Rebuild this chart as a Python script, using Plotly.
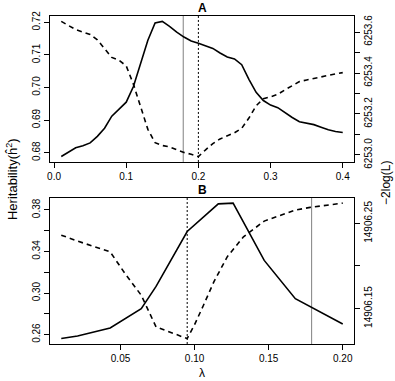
import plotly.graph_objects as go

# Panel A: grid of lambda values, heritability and -2log(L)
lam_a = [0.01, 0.02, 0.03, 0.04, 0.05, 0.06, 0.07, 0.08, 0.09, 0.10,
         0.11, 0.12, 0.13, 0.14, 0.15, 0.16, 0.17, 0.18, 0.19, 0.20,
         0.21, 0.22, 0.23, 0.24, 0.25, 0.26, 0.27, 0.28, 0.29, 0.30,
         0.31, 0.32, 0.33, 0.34, 0.35, 0.36, 0.37, 0.38, 0.39, 0.40]
h2_a = [0.6788, 0.6802, 0.6815, 0.6821, 0.6830, 0.6850, 0.6875, 0.6912, 0.6933, 0.6955,
        0.7003, 0.7075, 0.7145, 0.7198, 0.7203, 0.7188, 0.7170, 0.7155, 0.7143, 0.7136,
        0.7128, 0.7120, 0.7106, 0.7094, 0.7088, 0.7070, 0.7025, 0.6985, 0.6960, 0.6946,
        0.6938, 0.6922, 0.6908, 0.6895, 0.6891, 0.6886, 0.6878, 0.6870, 0.6865, 0.6862]
nll_a = [6253.652, 6253.632, 6253.612, 6253.600, 6253.588, 6253.562, 6253.518, 6253.476, 6253.462, 6253.435,
         6253.345, 6253.230, 6253.125, 6253.060, 6253.046, 6253.039, 6253.025, 6253.012, 6253.003, 6252.992,
         6253.025, 6253.055, 6253.078, 6253.095, 6253.108, 6253.130, 6253.180, 6253.240, 6253.275, 6253.284,
         6253.296, 6253.318, 6253.340, 6253.358, 6253.366, 6253.374, 6253.383, 6253.390, 6253.396, 6253.402]
lam_a_sel = 0.179   # solid grey reference line
lam_a_min = 0.20    # dotted line at minimum -2log(L)

# Panel B
lam_b_h = [0.01, 0.021, 0.043, 0.064, 0.074, 0.095, 0.116, 0.126, 0.147, 0.168, 0.2]
h2_b = [0.2562, 0.2587, 0.2664, 0.2850, 0.3064, 0.3592, 0.3858, 0.3865, 0.3314, 0.2946, 0.2703]
lam_b_l = [0.01, 0.021, 0.043, 0.053, 0.064, 0.074, 0.095, 0.100, 0.106, 0.113,
           0.122, 0.133, 0.147, 0.168, 0.178, 0.2]
nll_b = [14906.2362, 14906.2292, 14906.2166, 14906.1912, 14906.1656, 14906.1284, 14906.1147,
         14906.1310, 14906.1539, 14906.1813, 14906.2107, 14906.2342, 14906.2527, 14906.2656,
         14906.2688, 14906.2738]
lam_b_sel = 0.179
lam_b_min = 0.095

# tick labels
xt_a = [0.0, 0.1, 0.2, 0.3, 0.4]
xt_b = [0.05, 0.10, 0.15, 0.20]
yl_a = [0.68, 0.69, 0.70, 0.71, 0.72]
yl_b = [0.26, 0.28, 0.30, 0.32, 0.34, 0.36, 0.38]
yl_b_text = ["0.26", " ", "0.30", " ", "0.34", " ", "0.38"]
yr_a = [6253.0, 6253.1, 6253.2, 6253.3, 6253.4, 6253.5, 6253.6]
yr_a_text = ["6253.0", " ", "6253.2", " ", "6253.4", " ", "6253.6"]
yr_b = [14906.15, 14906.20, 14906.25]
yr_b_text = ["14906.15", " ", "14906.25"]

FONT = "Liberation Sans, Arial, sans-serif"


def rng(*series):
    # R style: data range padded by 4% each side
    vals = [v for s in series for v in s]
    lo, hi = min(vals), max(vals)
    pad = 0.04 * (hi - lo)
    return [lo - pad, hi + pad]


fig = go.Figure()
solid = dict(color="black", width=1.6)
dashed = dict(color="black", width=1.6, dash="5px,4px")
fig.add_trace(go.Scatter(x=lam_a, y=h2_a, mode="lines", line=solid, xaxis="x", yaxis="y"))
fig.add_trace(go.Scatter(x=lam_a, y=nll_a, mode="lines", line=dashed, xaxis="x", yaxis="y2"))
fig.add_trace(go.Scatter(x=lam_b_h, y=h2_b, mode="lines", line=solid, xaxis="x2", yaxis="y3"))
fig.add_trace(go.Scatter(x=lam_b_l, y=nll_b, mode="lines", line=dashed, xaxis="x2", yaxis="y4"))

ax = dict(showline=True, linecolor="black", linewidth=1, mirror=True, ticks="outside",
          ticklen=5, tickcolor="black", showgrid=False, zeroline=False,
          tickfont=dict(size=10, color="black", family=FONT))
xax = dict(ax)
yax = dict(ax, tickangle=-90)
top = [0.555, 1.0]
bot = [0.0, 0.446]

fig.update_layout(
    xaxis=dict(xax, domain=[0, 1], anchor="y", range=rng(lam_a), tickvals=xt_a,
               ticktext=["0.0", "0.1", "0.2", "0.3", "0.4"]),
    yaxis=dict(yax, domain=top, anchor="x", range=rng(h2_a), tickvals=yl_a,
               ticktext=[f"{v:.2f}" for v in yl_a]),
    yaxis2=dict(yax, domain=top, anchor="x", overlaying="y", side="right", range=rng(nll_a),
                tickvals=yr_a, ticktext=yr_a_text),
    xaxis2=dict(xax, domain=[0, 1], anchor="y3", range=rng(lam_b_h, lam_b_l), tickvals=xt_b,
                ticktext=[f"{v:.2f}" for v in xt_b]),
    yaxis3=dict(yax, domain=bot, anchor="x2", range=rng(h2_b), tickvals=yl_b,
                ticktext=yl_b_text),
    yaxis4=dict(yax, domain=bot, anchor="x2", overlaying="y3", side="right", range=rng(nll_b),
                tickvals=yr_b, ticktext=yr_b_text),
    width=395, height=381,
    margin=dict(l=50, r=41, t=16, b=37),
    paper_bgcolor="white", plot_bgcolor="white",
    showlegend=False,
    font=dict(family=FONT, color="black"),
)

vlines = [("x", "y domain", lam_a_sel, dict(color="#808080", width=1)),
          ("x", "y domain", lam_a_min, dict(color="black", width=1, dash="2px,2px")),
          ("x2", "y3 domain", lam_b_sel, dict(color="#808080", width=1)),
          ("x2", "y3 domain", lam_b_min, dict(color="black", width=1, dash="2px,2px"))]
for xr, yr, xv, ln in vlines:
    fig.add_shape(type="line", xref=xr, yref=yr, x0=xv, x1=xv, y0=0, y1=1, line=ln, layer="below")

notes = [
    dict(text="<b>A</b>", x=0.5, y=1.0, yshift=8, font=dict(size=12)),
    dict(text="<b>B</b>", x=0.5, y=0.446, yshift=8, font=dict(size=12)),
    dict(text="Heritability(ĥ<sup>2</sup>)", x=0.0, xshift=-38, y=0.503, textangle=-90,
         font=dict(size=13)),
    dict(text="−2log(L)", x=1.0, xshift=32, y=0.491, textangle=-90, font=dict(size=12)),
    dict(text="λ", x=0.5, y=0.0, yshift=-29, font=dict(size=12)),
]
for n in notes:
    fig.add_annotation(xref="paper", yref="paper", showarrow=False,
                       xanchor="center", yanchor="middle", **n)

# the page body has a default margin; drop it so the figure sits at the corner
fig.write_html("out.html", config={"displayModeBar": False},
               post_script="document.body.style.margin='0';")
